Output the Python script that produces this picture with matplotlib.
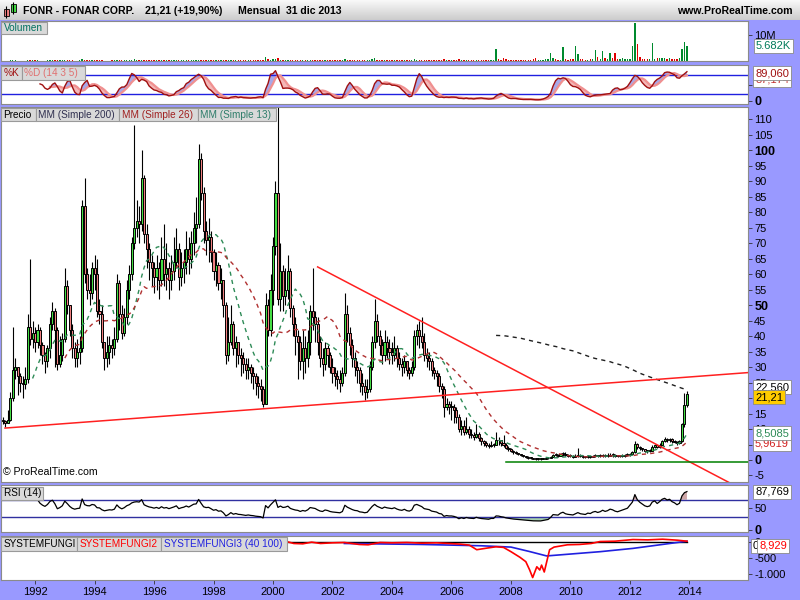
import numpy as np
import pandas as pd
import matplotlib
matplotlib.use("Agg")
import matplotlib.pyplot as plt
from matplotlib.patches import Rectangle

plt.rcParams['font.family'] = ['Liberation Sans', 'DejaVu Sans']

# monthly candles FONR, first candle = Dec 1990, last = Dec 2013
closes = [
    12.5,
    12, 13, 20, 29, 30, 27, 25, 24.5, 26, 43, 39, 41,          # 1991
    38, 42, 37, 34, 32, 36, 44, 48, 42, 31, 34, 39,            # 1992
    56, 50, 42, 36, 33, 35, 36, 82, 60, 55, 54, 62,            # 1993
    60, 48, 47, 38, 33, 35, 37, 36, 39, 57, 47, 41,            # 1994
    46, 55, 60, 70, 75, 77, 76, 91, 73, 68, 64, 62,            # 1995
    59, 62, 58, 65, 60, 62, 58, 61, 64, 68, 59, 62,            # 1996
    64, 68, 65, 70, 75, 76, 97, 86, 74, 71, 72, 67,            # 1997
    61, 63, 57, 58, 50, 34, 38, 44, 36, 38, 34, 33,            # 1998
    31, 29, 30, 28, 27, 25, 24, 23, 18, 50, 42, 55,            # 1999
    69, 86, 52, 61, 53, 55, 61, 49, 44, 40, 38, 32,            # 2000
    36, 33, 38, 48, 46, 44, 38, 33, 31, 36, 34, 30,            # 2001
    28, 27, 26, 25, 28, 47, 41, 37, 33, 30, 29, 25,            # 2002
    24, 22, 23, 30, 38, 45, 40, 37, 34, 38, 36, 35,            # 2003
    34, 36, 33, 31, 30, 32, 29, 28, 30, 40, 42, 40,            # 2004
    38, 34, 33, 32, 29, 28, 27, 24, 23, 17, 18, 17,            # 2005
    17, 16, 14, 10, 11, 9, 10, 8.5, 8, 7.5, 8.5, 7,            # 2006
    6, 5.5, 5, 4.5, 5, 5, 6.5, 6.3, 5.5, 5, 4, 3.5,            # 2007
    3, 2.5, 2.2, 1.8, 1.5, 1.2, 1, 0.8, 0.6, 0.4, 0.3, 0.3,    # 2008
    0.3, 0.4, 0.5, 0.6, 1, 1.6, 1.5, 1.4, 1.8, 2, 1.5, 1.3,    # 2009
    1.2, 1.1, 1.3, 1.5, 1.2, 1.1, 1, 1.2, 1.1, 1.3, 1.4, 1.2,  # 2010
    1.3, 1.5, 1.3, 1.4, 1.6, 1.5, 1.3, 1.2, 1.3, 1.4, 1.5, 1.6,  # 2011
    2.0, 2.5, 5.2, 4.3, 3.8, 3.4, 3.0, 2.8, 3.0, 4.3, 4.8, 4.2,  # 2012
    5.0, 6.2, 6.8, 6.4, 6.8, 6.2, 5.9, 5.4, 6.0, 11.5, 17.69, 21.21,  # 2013
]
highs = [
    14,
    13, 16, 22, 43, 33, 30, 28, 27, 30, 47, 65, 45,
    43, 44, 43, 38, 35, 37, 46, 51, 49, 43, 40, 41,
    62, 58, 50, 44, 38, 39, 40, 84, 91, 62, 60, 64,
    66, 65, 52, 50, 38, 40, 40, 39, 43, 60, 58, 50,
    49, 58, 63, 72, 108, 84, 82, 100, 92, 76, 70, 66,
    64, 66, 64, 72, 76, 70, 64, 66, 72, 75, 70, 67,
    68, 74, 72, 74, 80, 85, 102, 99, 88, 77, 78, 74,
    68, 67, 64, 62, 58, 51, 46, 50, 45, 40, 38, 36,
    35, 33, 33, 31, 30, 28, 27, 26, 24, 54, 52, 60,
    72, 90, 118, 70, 63, 62, 66, 62, 50, 46, 42, 40,
    42, 40, 42, 50, 62, 48, 46, 40, 36, 38, 37, 35,
    33, 30, 29, 29, 30, 54, 50, 43, 39, 35, 32, 30,
    28, 26, 26, 32, 40, 52, 47, 42, 39, 42, 40, 39,
    38, 40, 37, 35, 33, 34, 32, 30, 32, 42, 44, 45,
    46, 41, 36, 35, 33, 30, 29, 28, 25, 24, 20, 19,
    19, 18, 17, 15, 13, 13, 14, 11, 10, 9, 11.5, 9,
    7.5, 6.5, 6, 5.5, 6, 5.5, 9, 7.5, 6.5, 8, 5.5, 4.5,
    3.8, 3.2, 2.8, 2.4, 2, 1.7, 1.4, 1.2, 1, 0.8, 0.6, 0.5,
    0.5, 0.6, 0.7, 0.9, 1.4, 2, 2.2, 1.9, 2.4, 2.6, 2.5, 1.8,
    1.8, 1.5, 1.8, 4, 1.9, 1.5, 1.4, 1.6, 1.4, 1.7, 1.9, 1.7,
    1.8, 2, 1.9, 2.2, 2.1, 2.3, 1.9, 1.6, 1.7, 1.8, 2, 2.1,
    2.4, 2.9, 6.2, 5.4, 4.5, 4.0, 3.6, 3.2, 3.5, 5.0, 5.3, 5.0,
    5.4, 6.6, 7.3, 7.2, 7.2, 7.0, 6.5, 6.0, 6.3, 12, 21.5, 22.4,
]
lows = [
    11.5,
    10.5, 12, 12.5, 19, 26, 21, 22, 20, 23, 25, 37, 36,
    35, 36, 34, 31, 28, 30, 33, 42, 30, 29, 30, 32,
    38, 47, 40, 33, 30, 30, 31, 35, 57, 52, 50, 52,
    55, 46, 44, 36, 29, 30, 31, 33, 34, 38, 42, 39,
    40, 44, 52, 58, 68, 72, 70, 74, 70, 62, 58, 56,
    54, 55, 52, 56, 56, 55, 52, 55, 58, 62, 55, 56,
    57, 60, 60, 62, 66, 70, 75, 84, 70, 66, 64, 64,
    58, 56, 55, 52, 46, 31, 32, 37, 34, 30, 31, 27,
    28, 26, 26, 25, 23, 21, 20, 19, 17, 18, 40, 40,
    50, 66, 50, 48, 48, 50, 52, 46, 40, 34, 26, 29,
    26, 28, 30, 34, 42, 38, 34, 30, 27, 29, 30, 28,
    25, 24, 23, 22, 24, 27, 38, 34, 30, 27, 25, 22,
    21, 19.5, 20, 22, 29, 36, 38, 34, 31, 32, 33, 31,
    31, 32, 30, 29, 27, 28, 27, 26, 27, 29, 37, 36,
    36, 32, 30, 29, 27, 26, 24, 22, 20, 14, 16, 15,
    13, 12, 12, 9, 8, 8, 8.5, 7, 7, 6.5, 7, 6,
    5, 4.5, 4.3, 4, 4.2, 4.3, 4.8, 5, 4.5, 4.3, 3.5, 3,
    2.5, 2, 1.8, 1.5, 1.2, 0.9, 0.6, 0.4, 0.3, 0.2, 0.1, 0.1,
    0.1, 0.2, 0.2, 0.3, 0.5, 0.9, 1.2, 1.1, 1.2, 1.4, 1.2, 1,
    0.9, 0.8, 0.9, 1, 0.9, 0.8, 0.7, 0.8, 0.8, 0.9, 1, 0.9,
    1, 1.1, 1, 1.1, 1.2, 1.1, 1, 0.9, 1, 1, 1.1, 1.2,
    1.4, 1.8, 2.4, 3.6, 3.2, 2.8, 2.5, 2.3, 2.5, 2.8, 4.0, 3.8,
    4.0, 4.8, 5.8, 5.9, 5.8, 5.6, 5.4, 4.9, 5.2, 5.8, 10.5, 17,
]
# volume in millions
volumes = [
    0.1,
    0.1, 0.1, 0.2, 0.3, 0.2, 0.1, 0.1, 0.1, 0.1, 0.3, 0.4, 0.2,
    0.2, 0.2, 0.1, 0.1, 0.1, 0.2, 0.3, 0.3, 0.2, 0.2, 0.2, 0.3,
    0.4, 0.3, 0.2, 0.2, 0.1, 0.1, 0.2, 0.6, 0.5, 0.3, 0.3, 0.4,
    0.3, 0.3, 0.2, 0.2, 0.1, 0.1, 0.1, 0.2, 0.4, 0.3, 0.2, 0.2,
    0.3, 0.4, 0.4, 0.5, 0.6, 0.4, 0.3, 0.5, 0.4, 0.3, 0.2, 0.2,
    0.2, 0.3, 0.2, 0.3, 0.3, 0.2, 0.2, 0.2, 0.3, 0.3, 0.3, 0.2,
    0.2, 0.3, 0.2, 0.2, 0.3, 0.3, 0.5, 0.4, 0.3, 0.2, 0.2, 0.2,
    0.2, 0.2, 0.2, 0.2, 0.3, 0.4, 0.3, 0.3, 0.2, 0.2, 0.2, 0.2,
    0.2, 0.2, 0.2, 0.2, 0.2, 0.2, 0.2, 0.2, 0.3, 1.5, 0.6, 0.5,
    0.6, 0.8, 1.2, 0.5, 0.4, 0.3, 0.3, 0.3, 0.3, 0.3, 0.3, 0.3,
    0.4, 0.3, 0.3, 0.5, 0.5, 0.3, 0.3, 0.2, 0.2, 0.2, 0.2, 0.2,
    0.2, 0.2, 0.2, 0.2, 0.3, 0.9, 0.5, 0.3, 0.3, 0.3, 0.2, 0.3,
    0.3, 0.3, 0.3, 0.4, 0.6, 1.0, 0.5, 0.4, 0.3, 0.3, 0.3, 0.3,
    0.3, 0.3, 0.3, 0.3, 0.3, 0.3, 0.3, 0.3, 0.3, 0.6, 0.5, 0.4,
    0.4, 0.4, 0.3, 0.3, 0.3, 0.3, 0.3, 0.4, 0.4, 0.6, 0.4, 0.4,
    0.5, 0.4, 0.4, 0.6, 0.5, 0.5, 0.4, 0.4, 0.4, 0.4, 0.5, 0.4,
    0.4, 0.4, 0.4, 0.5, 0.5, 0.5, 4.5, 0.8, 0.5, 1.0, 0.6, 0.5,
    0.5, 0.5, 0.5, 0.4, 0.4, 0.4, 0.4, 0.4, 0.5, 0.6, 1.2, 0.4,
    0.4, 0.5, 0.6, 0.8, 3.2, 1.0, 0.6, 0.5, 0.5, 5.5, 0.8, 0.5,
    0.6, 0.7, 5.9, 2.7, 0.8, 0.6, 0.5, 0.5, 0.6, 0.7, 4.2, 1.7,
    0.8, 4.0, 1.0, 0.9, 3.2, 1.0, 3.2, 0.8, 0.6, 1.2, 0.6, 0.6,
    0.8, 5.8, 14.7, 6.5, 1.5, 0.7, 0.6, 0.6, 0.8, 7.0, 0.6, 1.0,
    1.0, 1.2, 1.3, 0.8, 1.0, 0.9, 0.8, 0.9, 1.0, 4.6, 7.4, 5.682,
]

# trend lines drawn on the price panel (year, price)
support_x = [1990.99, 2015.97]
support_y = [10.3, 28.2]
resist_x = [2001.5, 2015.6]
resist_y = [62.3, -8.6]
floor_x = [2007.82, 2015.97]
floor_y = [-0.65, -0.65]

# SYSTEMFUNGI custom indicators (year, value)
fungi_x = [2000.45, 2013.92]
fungi_y = [0, 0]
fungi2_x = [2000.45, 2000.7, 2001.0, 2001.3, 2001.6, 2002.0, 2002.4, 2002.9, 2003.2, 2003.6, 2004.0,
            2004.5, 2005.0, 2005.5, 2005.9, 2006.3, 2006.6, 2006.85, 2007.2, 2007.5, 2007.75, 2008.0,
            2008.3, 2008.5, 2008.63, 2008.73, 2008.87, 2008.97, 2009.03, 2009.12, 2009.3, 2009.45,
            2009.9, 2010.3, 2010.7, 2011.0, 2011.5, 2012.1, 2012.6, 2013.1, 2013.6, 2013.92]
fungi2_y = [0, -60, -70, -20, -60, -40, -30, -90, -100, -30, -40,
            -30, -50, -40, -60, -80, -110, -250, -200, -160, -180, -310,
            -480, -615, -870, -1100, -770, -870, -720, -930, -250, -170,
            -100, -90, -60, 0, 10, 60, 50, 70, 40, 9]
fungi3_x = [2002.4, 2005.0, 2007.0, 2008.0, 2008.6, 2009.2, 2011.0, 2012.1, 2013.92]
fungi3_y = [-60, -90, -130, -170, -300, -440, -310, -210, 10]

years = list(range(1992, 2015, 2))
price_ticks = list(range(-5, 111, 5))

W, H = 800, 600
x_left, x_right = 1990.855, 2015.97
LAV = '#9999FF'
TAGSIZE = 7.2

s_close = pd.Series(closes, dtype=float)
s_high = pd.Series(highs, dtype=float)
s_low = pd.Series(lows, dtype=float)
opens = [13.0] + closes[:-1]
dates = 1990 + 11 / 12 + np.arange(len(closes)) / 12
up = np.array(closes) >= np.array(opens)

ma200 = s_close.rolling(200).mean()
ma26 = s_close.rolling(26).mean()
ma13 = s_close.rolling(13).mean()

# stochastic 14 3 5
ll = s_low.rolling(14).min()
hh = s_high.rolling(14).max()
fastk = 100 * (s_close - ll) / (hh - ll)
stk = fastk.rolling(3).mean()
std = stk.rolling(5).mean()

# rsi 14 (wilder)
delta = s_close.diff()
gain = delta.clip(lower=0)
loss = -delta.clip(upper=0)
ag = gain.ewm(alpha=1 / 14, adjust=False).mean()
al = loss.ewm(alpha=1 / 14, adjust=False).mean()
rsi = 100 - 100 / (1 + ag / al)
rsi[:14] = np.nan

fig = plt.figure(figsize=(8, 6), dpi=100, facecolor=LAV)


def panel(x0, y0, x1, y1):
    ax = fig.add_axes([x0 / W, 1 - y1 / H, (x1 - x0) / W, (y1 - y0) / H])
    ax.set_facecolor('white')
    for s in ax.spines.values():
        s.set_color('#8a8a8a')
        s.set_linewidth(0.8)
    ax.set_xlim(x_left, x_right)
    ax.yaxis.tick_right()
    ax.tick_params(axis='y', direction='out', length=3, width=0.6, pad=1.5,
                   labelsize=8, colors='#333333', labelcolor='black')
    ax.tick_params(axis='x', bottom=False, labelbottom=False)
    return ax


def tag(x0, x1, y0, y1, text, color):
    fig.add_artist(Rectangle((x0 / W, 1 - y1 / H), (x1 - x0) / W, (y1 - y0) / H,
                             transform=fig.transFigure, fc='#D9D9D9', ec='#9a9a9a',
                             lw=0.8, zorder=5))
    fig.text((x0 + 2.5) / W, 1 - (y0 + y1) / 2 / H, text, color=color, fontsize=TAGSIZE,
             va='center', ha='left', zorder=6)


def value_box(x, y, text, color, fc='white'):
    fig.text(x / W, 1 - y / H, text, color=color, fontsize=8, va='center', ha='left',
             zorder=7, bbox=dict(boxstyle='square,pad=0.18', fc=fc, ec='#8a8a8a', lw=0.6))


def bold_ticks(ax, bold_vals):
    for t, v in zip(ax.get_yticklabels(), ax.get_yticks()):
        if v in bold_vals:
            t.set_fontweight('bold')
            t.set_fontsize(9)


# header bar
hdr = fig.add_axes([0, 1 - 20 / H, 1, 20 / H])
grad = np.linspace(0.97, 0.80, 20).reshape(-1, 1)
hdr.imshow(grad, aspect='auto', cmap='gray', vmin=0, vmax=1, extent=(0, W, 20, 0))
hdr.set_xlim(0, W)
hdr.set_ylim(20, 0)
hdr.axis('off')
hdr.vlines([6, 13], [6, 2], [18, 14], color='black', lw=0.8)
hdr.add_patch(Rectangle((4, 9), 4.5, 7, fc='#F08080', ec='black', lw=0.6))
hdr.add_patch(Rectangle((11, 4), 4.5, 8, fc='#44DD44', ec='black', lw=0.6))
hdr.text(23, 10.5, 'FONR - FONAR CORP.', fontsize=7.6, fontweight='bold', va='center')
hdr.text(145, 10.5, '21,21 (+19,90%)', fontsize=7.6, fontweight='bold', va='center')
hdr.text(238, 10.5, 'Mensual  31 dic 2013', fontsize=7.6, fontweight='bold', va='center')
hdr.text(793, 10.5, 'www.ProRealTime.com', fontsize=7.6, fontweight='bold', va='center',
         ha='right')

# volume
axv = panel(1, 21, 748, 61)
vcol = np.where(up, '#008A2E', '#E00000')
axv.bar(dates, volumes, width=0.045, color=vcol, linewidth=0)
axv.set_ylim(0, 15.4)
axv.set_yticks([10])
axv.set_yticklabels(['10M'])
tag(1, 47, 22, 34, 'Volumen', '#007060')
value_box(756, 46, '5.682K', '#007A5A')

# stochastic
axs = panel(1, 65, 748, 104)
axs.set_ylim(-10, 110)
axs.axhline(80, color='#2020E0', lw=1)
axs.axhline(20, color='#2020E0', lw=1)
axs.fill_between(dates, stk, std, where=stk >= std, color='#A8A8E8', interpolate=True, lw=0)
axs.fill_between(dates, stk, std, where=stk < std, color='#F4B8B8', interpolate=True, lw=0)
axs.plot(dates, std, color='#F09090', lw=1.6)
axs.plot(dates, stk, color='#A01010', lw=1.0)
axs.set_yticks([0, 50])
axs.set_yticklabels(['0', '50'])
bold_ticks(axs, [0])
tag(1, 22, 66, 80, '%K', '#A01010')
tag(22, 85, 66, 80, '%D (14 3 5)', '#E07070')
value_box(755, 80, '87,174', '#C03030')
value_box(755, 73, '89,060', '#A01010')

# price
axp = panel(1, 107, 748, 482)
axp.set_ylim(-7.1, 113.9)
axp.vlines(dates, lows, highs, color='black', lw=0.8, zorder=2)
o = np.array(opens)
c = np.array(closes)
body_bot = np.minimum(o, c)
body_h = np.maximum(np.abs(c - o), 0.3)
axp.bar(dates, body_h, bottom=body_bot, width=0.07,
        color=np.where(up, '#44DD44', '#F08080'), edgecolor='black', linewidth=0.7, zorder=3)
axp.plot(dates, ma13, color='#2E8B57', lw=1.0, ls=(0, (3, 3)), zorder=4)
axp.plot(dates, ma26, color='#B03030', lw=1.0, ls=(0, (3, 3)), zorder=4)
axp.plot(dates, ma200, color='#202020', lw=1.0, ls=(0, (3, 3)), zorder=4)
axp.plot(support_x, support_y, color='#FF2020', lw=1.1, zorder=5)
axp.plot(resist_x, resist_y, color='#FF2020', lw=1.1, zorder=5)
axp.plot(floor_x, floor_y, color='#008000', lw=1.1, zorder=5)
axp.set_yticks(price_ticks)
axp.set_yticklabels([str(v) for v in price_ticks])
bold_ticks(axp, [0, 50, 100])
axp.text(0.003, 0.018, '\u00a9 ProRealTime.com', transform=axp.transAxes, fontsize=7.6)
tag(1, 36, 108, 121, 'Precio', 'black')
tag(36, 119, 108, 121, 'MM (Simple 200)', '#303050')
tag(119, 198, 108, 121, 'MM (Simple 26)', '#A02020')
tag(198, 276, 108, 121, 'MM (Simple 13)', '#2E7D6A')
value_box(755, 387, '22,560', 'black')
value_box(755, 397, '21,21', 'black', fc='#FFCC00')
value_box(755, 444, '5,9619', '#D02020')
value_box(755, 433, '8,5085', '#2E8B57')

# rsi
axr = panel(1, 485, 748, 532)
axr.set_ylim(-5, 104)
axr.axhline(70, color='#3030A0', lw=1)
axr.axhline(30, color='#3030A0', lw=1)
axr.fill_between(dates, rsi, 70, where=rsi > 70, color='#D0A8A8', interpolate=True, lw=0)
axr.fill_between(dates, rsi, 30, where=rsi < 30, color='#A8D0B0', interpolate=True, lw=0)
axr.plot(dates, rsi, color='black', lw=0.9)
axr.set_yticks([0, 50])
axr.set_yticklabels(['0', '50'])
bold_ticks(axr, [0])
tag(1, 43, 487, 500, 'RSI (14)', 'black')
value_box(755, 492, '87,769', 'black')

# systemfungi
axf = panel(1, 536, 748, 580)
axf.set_ylim(-1174, 168)
axf.plot(fungi_x, fungi_y, color='black', lw=1.0)
axf.plot(fungi3_x, fungi3_y, color='#2020E0', lw=1.2)
axf.plot(fungi2_x, fungi2_y, color='#FF0000', lw=1.2)
axf.set_yticks([-1000, -500, 0])
axf.set_yticklabels(['-1.000', '-500', '0'])
axf.set_xticks(years)
axf.set_xticklabels([str(y) for y in years])
axf.tick_params(axis='x', bottom=True, labelbottom=True, direction='out', length=3,
                width=0.6, labelsize=8, pad=2, colors='#333333', labelcolor='black')
tag(1, 77, 537, 551, 'SYSTEMFUNGI', 'black')
tag(77, 161, 537, 551, 'SYSTEMFUNGI2', '#FF0000')
tag(161, 287, 537, 551, 'SYSTEMFUNGI3 (40 100)', '#2020E0')
value_box(753, 546, '0', 'black')
value_box(759, 546, '8,929', '#FF0000')

fig.savefig('out.png', dpi=100, facecolor=LAV)
